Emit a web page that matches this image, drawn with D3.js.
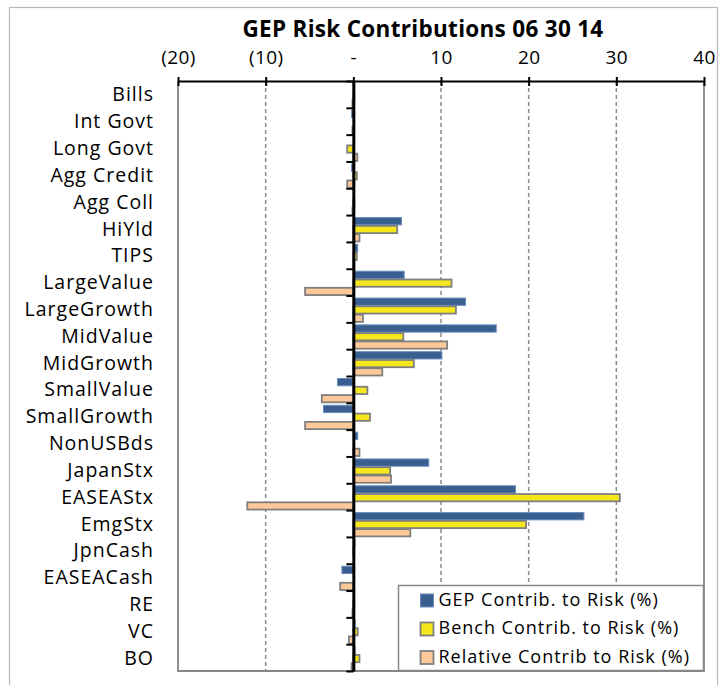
<!DOCTYPE html>
<html>
<head>
<meta charset="utf-8">
<script src="https://cdn.jsdelivr.net/npm/d3@7"></script>
<style>
  body { margin: 0; background: #fff; }
  svg text { font-family: "Open Sans", "Noto Sans", sans-serif; fill: #000; }
</style>
</head>
<body>
<svg id="chart_svg" width="723" height="685"></svg>
<script>
"use strict"

// chart data
const categories = ["Bills", "Int Govt", "Long Govt", "Agg Credit", "Agg Coll", "HiYld", "TIPS",
    "LargeValue", "LargeGrowth", "MidValue", "MidGrowth", "SmallValue", "SmallGrowth", "NonUSBds",
    "JapanStx", "EASEAStx", "EmgStx", "JpnCash", "EASEACash", "RE", "VC", "BO"];
const gepContrib   = [0.0, -0.2, 0.0, -0.2, 0.0, 5.5, 0.5, 5.8, 12.8, 16.3, 10.1, -1.8, -3.4, 0.5, 8.6, 18.5, 26.3, 0.2, -1.3, 0.0, 0.2, 0.2];
const benchContrib = [0.1, 0.0, -0.7, 0.4, 0.1, 5.0, 0.4, 11.2, 11.7, 5.7, 6.9, 1.6, 1.9, 0.0, 4.2, 30.4, 19.7, 0.1, 0.0, 0.1, 0.5, 0.7];
const relContrib   = [-0.1, -0.1, 0.45, -0.7, -0.1, 0.7, 0.1, -5.5, 1.1, 10.7, 3.3, -3.6, -5.5, 0.7, 4.3, -12.1, 6.5, 0.0, -1.5, -0.1, -0.5, -0.2];
const seriesNames = ["GEP Contrib. to Risk (%)", "Bench Contrib. to Risk (%)", "Relative Contrib to Risk (%)"];
const xTicks = [-20, -10, 0, 10, 20, 30, 40];
const chartTitle = "GEP Risk  Contributions 06 30 14";

const seriesStyle = [
    { fill: "#385f90", stroke: "#6a8cba", sw: 1 },
    { fill: "#f5e71b", stroke: "#7f7f7f", sw: 1.8 },
    { fill: "#fdc998", stroke: "#7f7f7f", sw: 1.8 }
];

const seriesData = [gepContrib, benchContrib, relContrib];

const svg = d3.select("#chart_svg");
const plotLeft = 178, plotRight = 704, plotTop = 81, plotBottom = 671;

// outer chart border
svg.append("rect")
    .attr("x", 9.5).attr("y", 7.5)
    .attr("width", 708).attr("height", 700)
    .attr("fill", "#fff")
    .attr("stroke", "#b8b8b8")
    .attr("stroke-width", 1.2);

const x = d3.scaleLinear().domain([-20, 40]).range([plotLeft, plotRight]);
const y = d3.scaleBand().domain(categories).range([plotTop, plotBottom]).padding(0);
const yInner = d3.scaleBand().domain(d3.range(3)).range([2, y.bandwidth()]).padding(0);
const yIdx = d3.scaleLinear().domain([0, categories.length]).range([plotTop, plotBottom]);

// gridlines
svg.append("g")
    .selectAll("line")
    .data(xTicks.filter(d => d !== 0 && d !== -20 && d !== 40))
    .join("line")
    .attr("x1", d => x(d)).attr("x2", d => x(d))
    .attr("y1", plotTop).attr("y2", plotBottom)
    .attr("stroke", "#8a8a8a")
    .attr("stroke-width", 1.5)
    .attr("stroke-dasharray", "4,3");

// plot area border (left, right, bottom)
svg.append("path")
    .attr("d", `M${plotLeft},${plotTop}V${plotBottom}H${plotRight}V${plotTop}`)
    .attr("fill", "none")
    .attr("stroke", "#868686")
    .attr("stroke-width", 1.8);

// bars
const rows = categories.map((c, i) => ({ cat: c, vals: seriesData.map(s => s[i]) }));

const groups = svg.append("g")
    .selectAll("g")
    .data(rows)
    .join("g")
    .attr("transform", d => `translate(0,${y(d.cat)})`);

groups.selectAll("rect")
    .data(d => d.vals.map((v, k) => ({ v, k })))
    .join("rect")
    .attr("x", d => x(Math.min(0, d.v)))
    .attr("width", d => Math.abs(x(d.v) - x(0)))
    .attr("y", d => yInner(d.k) + 0.5)
    .attr("height", yInner.bandwidth() - 1)
    .attr("fill", d => seriesStyle[d.k].fill)
    .attr("stroke", d => seriesStyle[d.k].stroke)
    .attr("stroke-width", d => seriesStyle[d.k].sw);

// top value axis
const xAxis = svg.append("g")
    .attr("transform", `translate(0,${plotTop})`)
    .call(d3.axisTop(x).tickValues(xTicks).tickSize(4).tickSizeOuter(0)
        .tickFormat(d => d < 0 ? `(${-d})` : d === 0 ? "-" : d));
xAxis.select(".domain").attr("stroke", "#000").attr("stroke-width", 2.2);
xAxis.selectAll(".tick line").attr("y1", 5).attr("y2", -4).attr("stroke", "#000").attr("stroke-width", 2);
xAxis.selectAll(".tick text")
    .attr("y", -17)
    .attr("dy", 0)
    .style("font-size", "19px")
    .style("letter-spacing", "0.4px");

// zero category axis with ticks at band edges
const yAxis = svg.append("g")
    .attr("transform", `translate(${x(0)},0)`)
    .call(d3.axisLeft(yIdx).tickValues(d3.range(categories.length + 1))
        .tickSize(7).tickSizeOuter(0).tickFormat(""));
yAxis.select(".domain").attr("stroke", "#000").attr("stroke-width", 3);
yAxis.selectAll(".tick line").attr("stroke", "#000").attr("stroke-width", 2);

// category labels
svg.append("g")
    .selectAll("text")
    .data(categories)
    .join("text")
    .attr("x", 154)
    .attr("y", d => y(d) + y.bandwidth() / 2)
    .attr("dy", "0.36em")
    .attr("text-anchor", "end")
    .style("font-size", "19.5px")
    .style("letter-spacing", "1px")
    .text(d => d);

// title
svg.append("text")
    .attr("x", 423)
    .attr("y", 37)
    .attr("text-anchor", "middle")
    .style("font-size", "22.5px")
    .style("font-weight", "bold")
    .style("letter-spacing", "0.3px")
    .text(chartTitle);

// legend
const legend = svg.append("g").attr("transform", "translate(398.5,585.5)");
legend.append("rect")
    .attr("width", 305).attr("height", 85)
    .attr("fill", "#fff")
    .attr("stroke", "#868686")
    .attr("stroke-width", 1.5);

const items = legend.selectAll("g")
    .data(seriesNames)
    .join("g")
    .attr("transform", (d, i) => `translate(0,${i * 28.5})`);
items.append("rect")
    .attr("x", 22).attr("y", 8.5)
    .attr("width", 13).attr("height", 13)
    .attr("fill", (d, i) => seriesStyle[i].fill)
    .attr("stroke", (d, i) => seriesStyle[i].stroke)
    .attr("stroke-width", (d, i) => seriesStyle[i].sw);
items.append("text")
    .attr("x", 40)
    .attr("y", 20)
    .style("font-size", "18px")
    .style("letter-spacing", "1px")
    .text(d => d);
</script>
</body>
</html>
